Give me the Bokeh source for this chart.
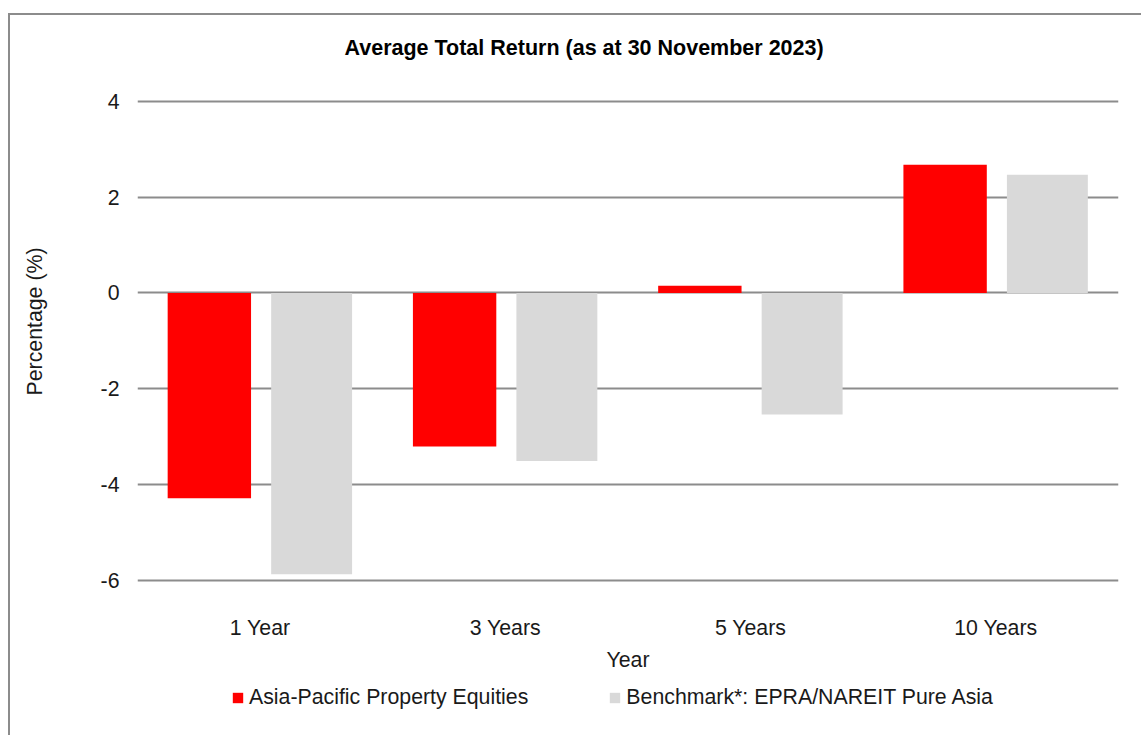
from bokeh.plotting import figure
from bokeh.models import ColumnDataSource, Legend, LegendItem, PrintfTickFormatter, Title
from bokeh.transform import dodge
from bokeh.embed import file_html
from bokeh.resources import INLINE

# ---- data ----
categories = ["1 Year", "3 Years", "5 Years", "10 Years"]
fund = [-4.29, -3.21, 0.15, 2.68]
benchmark = [-5.88, -3.51, -2.54, 2.47]
fund_name = "Asia-Pacific Property Equities"
bench_name = "Benchmark*: EPRA/NAREIT Pure Asia"
y_ticks = [-6, -4, -2, 0, 2, 4]

FONT = "Liberation Sans"
FS = "21.3px"
TXT = "#1a1a1a"
GRID = "#8c8c8c"

src = ColumnDataSource(dict(cat=categories, fund=fund, bench=benchmark))

p = figure(
    x_range=categories, y_range=(-9.5, 4.65),
    frame_width=981, frame_height=677,
    output_backend="svg", toolbar_location=None,
    min_border_left=127, min_border_right=23,
    min_border_top=55, min_border_bottom=0,
    title="Average Total Return (as at 30 November 2023)",
)
p.margin = (13, 0, 0, 8)
p.styles = {"border-left": "2px solid #8c8c8c", "border-top": "2px solid #8c8c8c"}
p.outline_line_color = None
p.background_fill_color = "white"
p.border_fill_color = "white"

p.title.text_font = FONT
p.title.text_font_size = "21.5px"
p.title.text_font_style = "bold"
p.title.text_color = "black"
p.title.align = "left"
p.title.offset = 207
p.title.standoff = 22

r1 = p.vbar(x=dodge("cat", -0.207, range=p.x_range), top="fund", bottom=0, width=0.34,
            source=src, fill_color="#ff0000", line_color=None)
r2 = p.vbar(x=dodge("cat", 0.21, range=p.x_range), top="bench", bottom=0, width=0.33,
            source=src, fill_color="#d9d9d9", line_color=None)

# y axis
p.yaxis.ticker = y_ticks
p.yaxis.formatter = PrintfTickFormatter(format="%d")
p.yaxis.axis_line_color = None
p.yaxis.major_tick_line_color = None
p.yaxis.minor_tick_line_color = None
p.yaxis.major_tick_out = 0
p.yaxis.major_tick_in = 0
p.yaxis.major_label_text_font = FONT
p.yaxis.major_label_text_font_size = FS
p.yaxis.major_label_text_color = TXT
p.yaxis.major_label_standoff = 18
p.yaxis.axis_label = " "
p.yaxis.axis_label_text_font = FONT
p.yaxis.axis_label_text_font_size = FS
p.yaxis.axis_label_standoff = 24

ytitle = Title(text="Percentage (%)", align="right", vertical_align="bottom",
               offset=177, standoff=0,
               text_font=FONT, text_font_size=FS, text_font_style="normal",
               text_color=TXT)
p.add_layout(ytitle, "left")

# x axis pinned at the bottom gridline
p.xaxis.fixed_location = -6
p.xaxis.axis_line_color = None
p.xaxis.major_tick_line_color = None
p.xaxis.major_tick_out = 0
p.xaxis.major_tick_in = 0
p.xaxis.major_label_text_font = FONT
p.xaxis.major_label_text_font_size = FS
p.xaxis.major_label_text_color = TXT
p.xaxis.major_label_standoff = 36
p.xaxis.axis_label = "Year"
p.xaxis.axis_label_text_font = FONT
p.xaxis.axis_label_text_font_size = FS
p.xaxis.axis_label_text_font_style = "normal"
p.xaxis.axis_label_text_color = TXT
p.xaxis.axis_label_standoff = 4

p.xgrid.grid_line_color = None
p.ygrid.grid_line_color = GRID
p.ygrid.grid_line_width = 2

legend = Legend(
    items=[LegendItem(label=fund_name, renderers=[r1]),
           LegendItem(label=bench_name, renderers=[r2])],
    orientation="horizontal",
    location=(94, 37),
    glyph_width=13, glyph_height=13,
    label_standoff=5, spacing=80,
    padding=0, margin=0,
    border_line_color=None, background_fill_alpha=0,
    label_text_font=FONT, label_text_font_size=FS, label_text_color=TXT,
)
p.add_layout(legend)

open("out.html", "w").write(file_html(p, INLINE))
